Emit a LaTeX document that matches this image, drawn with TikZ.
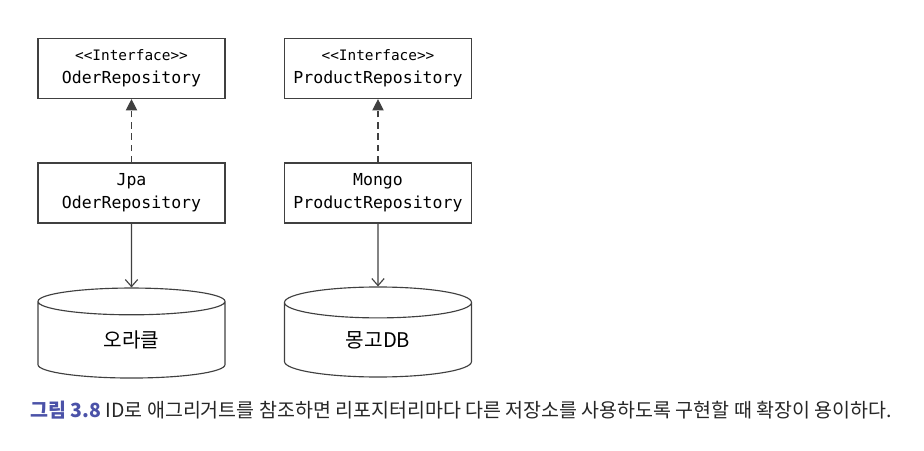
\documentclass[tikz,border=0pt]{standalone}
\usepackage{fontspec}
\setmonofont{DejaVu Sans Mono}
\newfontfamily\kofont{Noto Sans CJK KR}
\newcommand\stereofont{\ttfamily\fontsize{8.2}{11}\selectfont}
\usetikzlibrary{
    arrows.meta,     % For arrow tips
    shapes.geometric,% For the database cylinders
    positioning      % For relative placement
}

\begin{document}
\begin{tikzpicture}[
    >=Latex,
    line/.style={draw=black!75, line width=0.65pt},
    repo/.style={line, rectangle, minimum width=3.74cm, minimum height=1.2cm,
        align=center, inner sep=0pt, font=\ttfamily\fontsize{9.4}{13}\selectfont},
    store/.style={line, cylinder, shape border rotate=90, aspect=0.48,
        minimum width=3.74cm, minimum height=1.8cm, inner sep=0pt,
        font=\kofont\fontsize{11.5}{13}\selectfont},
    realize/.style={line, dash pattern=on 3.8pt off 2.6pt,
        -{Triangle[length=6.5pt, width=6.5pt]}},
    uses/.style={line, -{Straight Barb[length=4pt, width=7pt]}}
]
    \useasboundingbox (0,0) rectangle (18.48,-9);

    % Interfaces
    \node[repo] (orderIf) at (2.63,-1.37)
        {{\stereofont <<Interface>>}\\OderRepository};
    \node[repo] (productIf) at (7.56,-1.37)
        {{\stereofont <<Interface>>}\\ProductRepository};

    % Implementations
    \node[repo] (jpaRepo) at (2.63,-3.86) {Jpa\\OderRepository};
    \node[repo] (mongoRepo) at (7.56,-3.86) {Mongo\\ProductRepository};

    % Stores
    \node[store] (oracle) at (2.63,-6.8) {오라클};
    \node[store] (mongoDb) at (7.56,-6.8) {몽고DB};

    % Connectors
    \draw[realize] (jpaRepo) -- (orderIf);
    \draw[realize] (mongoRepo) -- (productIf);
    \draw[uses] (jpaRepo) -- (oracle);
    \draw[uses] (mongoRepo) -- (mongoDb);

    % Caption
    \node[anchor=west, inner sep=0pt, font=\kofont\fontsize{11.1}{13}\selectfont,
        text=black!85] (caption) at (0.6,-8.2)
        {\textcolor[HTML]{4B52A8}{\bfseries 그림 3.8} ID로 애그리거트를 참조하면 리포지터리마다 다른 저장소를 사용하도록 구현할 때 확장이 용이하다.};
\end{tikzpicture}
\end{document}
